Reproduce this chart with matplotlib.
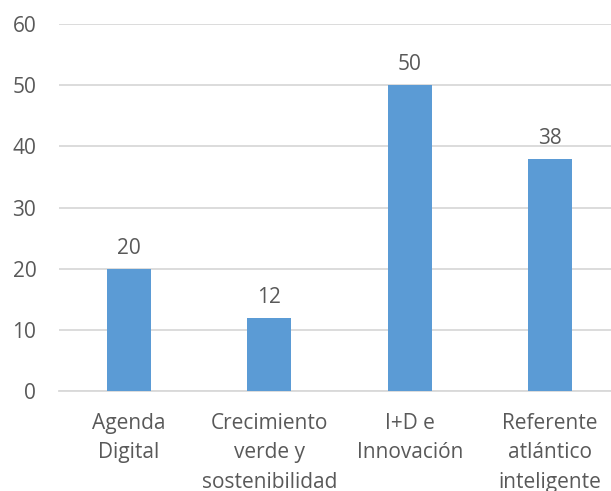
import matplotlib.pyplot as plt

plt.rcParams['font.family'] = ['Open Sans', 'DejaVu Sans']

categorias = ['Agenda\nDigital', 'Crecimiento\nverde y\nsostenibilidad',
              'I+D e\nInnovación', 'Referente\natlántico\ninteligente']
valores = [20, 12, 50, 38]
yticks = [0, 10, 20, 30, 40, 50, 60]

texto = '#595959'
rejilla = '#D9D9D9'

fig = plt.figure(figsize=(6.11, 4.91), dpi=100)
# el área del gráfico se sale un poco por la derecha, como en la original
ax = fig.add_axes([58.5 / 611, 100 / 491, 562 / 611, 367 / 491])

x = range(len(valores))
bars = ax.bar(x, valores, width=0.31, color='#5B9BD5', zorder=3)

for b, v in zip(bars, valores):
    ax.annotate(str(v), (b.get_x() + b.get_width() / 2, v), xytext=(0, 7),
                textcoords='offset points', ha='center', va='bottom',
                fontsize=15, color=texto)

ax.set_xlim(-0.5, len(valores) - 0.5)
ax.set_ylim(0, 60)
ax.set_yticks(yticks)
ax.set_xticks(list(x))
# la tercera línea queda cortada por abajo, igual que en la imagen original
ax.set_xticklabels(categorias, fontsize=15, color=texto, linespacing=1.55)
ax.tick_params(axis='y', labelsize=15, labelcolor=texto, length=0, pad=16)
ax.tick_params(axis='x', length=0, pad=15.5)
ax.grid(axis='y', color=rejilla, linewidth=1.3, zorder=0)

for s in ['top', 'right', 'left']:
    ax.spines[s].set_visible(False)
ax.spines['bottom'].set_color(rejilla)
ax.spines['bottom'].set_linewidth(1.3)

fig.savefig('out.png', dpi=100)
